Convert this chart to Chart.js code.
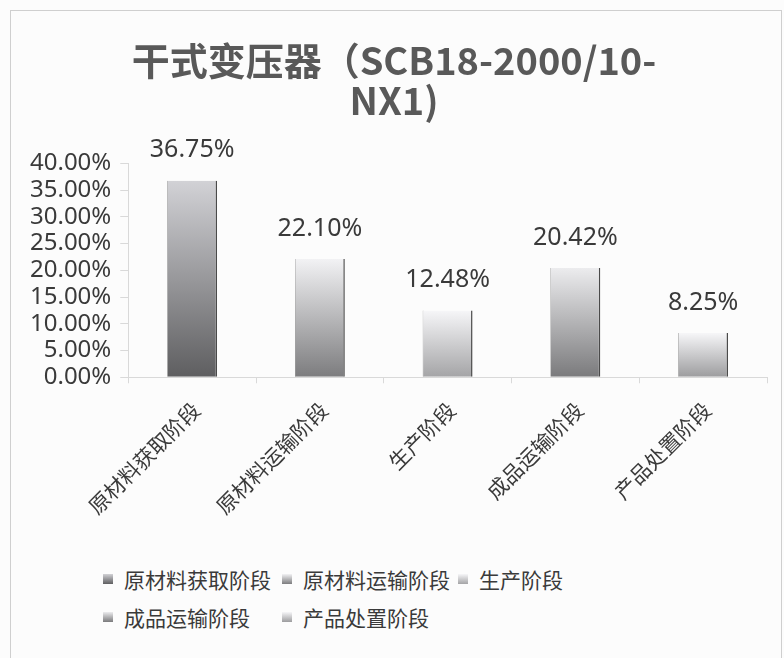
<!DOCTYPE html>
<html>
<head>
<meta charset="utf-8">
<script src="https://cdn.jsdelivr.net/npm/chart.js@4/dist/chart.umd.min.js"></script>
<style>
  body { margin: 0; background: #fcfcfc; width: 784px; height: 658px; overflow: hidden; position: relative; }
  #frame { position: absolute; left: 10px; top: 10px; width: 772px; height: 660px; border: 1px solid #cfcfcf; box-sizing: border-box; }
  #wrap { position: absolute; left: 0; top: 0; width: 784px; height: 533px; }
  #legend { position: absolute; left: 103px; top: 565px; display: grid; grid-template-columns: 179px 176px auto; row-gap: 10px;
            font-family: "Noto Sans CJK SC", sans-serif; font-size: 21px; color: #3a3a3a; }
  .item { display: flex; align-items: center; height: 28px; white-space: nowrap; }
  .sw { width: 10px; height: 10px; margin-right: 11px; }
</style>
</head>
<body>
<div id="frame"></div>
<div id="wrap"><canvas id="stageChart"></canvas></div>
<div id="legend"></div>
<script>
// 数据
const stages = ['原材料获取阶段', '原材料运输阶段', '生产阶段', '成品运输阶段', '产品处置阶段'];
const shares = [36.75, 22.10, 12.48, 20.42, 8.25];
const titleLines = ['干式变压器（SCB18-2000/10-', 'NX1)'];

// 每根柱子的渐变颜色（上 -> 下）
const topColors = ['#d2d2d6', '#f2f2f4', '#f6f6f8', '#ececee', '#f6f6f8'];
const bottomColors = ['#5e5e60', '#7c7c7e', '#a4a4a6', '#7a7a7c', '#9c9c9e'];

const latin = '"Noto Sans", "Noto Sans CJK SC", sans-serif';

function barGradient(context) {
    const chart = context.chart;
    const area = chart.chartArea;
    const yScale = chart.scales.y;
    if (!area || !yScale) return bottomColors[context.dataIndex];
    const top = yScale.getPixelForValue(shares[context.dataIndex]);
    if (!isFinite(top) || !isFinite(area.bottom)) return bottomColors[context.dataIndex];
    const g = chart.ctx.createLinearGradient(0, top, 0, area.bottom);
    g.addColorStop(0, topColors[context.dataIndex]);
    g.addColorStop(1, bottomColors[context.dataIndex]);
    return g;
}

// 柱顶数值标签
const valueLabels = {
    id: 'valueLabels',
    afterDatasetsDraw(chart) {
        const ctx = chart.ctx;
        ctx.save();
        ctx.font = '25px ' + latin;
        ctx.fillStyle = '#3a3a3a';
        ctx.textAlign = 'center';
        ctx.textBaseline = 'bottom';
        chart.getDatasetMeta(0).data.forEach((bar, i) => {
            ctx.fillText(shares[i].toFixed(2) + '%', bar.x, bar.y - 18);
        });
        ctx.restore();
    }
};

const ctx = document.getElementById('stageChart').getContext('2d');
const chartInstance = new Chart(ctx, {
    type: 'bar',
    data: {
        labels: stages,
        datasets: [{
            data: shares,
            backgroundColor: barGradient,
            borderColor: '#4a4a4a',
            borderWidth: { right: 1.5, left: 0.5, top: 0, bottom: 0 },
            borderSkipped: false,
            categoryPercentage: 1,
            barPercentage: 0.39
        }]
    },
    options: {
        responsive: true,
        maintainAspectRatio: false,
        animation: false,
        layout: { padding: { top: 40, right: 17, left: 21, bottom: 0 } },
        plugins: {
            legend: { display: false },
            tooltip: { enabled: false },
            title: {
                display: true,
                text: titleLines,
                color: '#595959',
                font: { family: '"Noto Sans CJK SC", sans-serif', size: 38, weight: 'bold', lineHeight: 1.07 },
                padding: { top: 0, bottom: 42 }
            }
        },
        scales: {
            x: {
                grid: { display: true, drawOnChartArea: false, drawTicks: true, tickLength: 6, color: '#d9d9d9', offset: true },
                border: { color: '#d9d9d9' },
                ticks: {
                    color: '#3a3a3a',
                    font: { family: '"Noto Sans CJK SC", sans-serif', size: 21 },
                    minRotation: 45, maxRotation: 45, padding: 14, labelOffset: 4
                }
            },
            y: {
                min: 0, max: 40,
                grid: { display: true, drawOnChartArea: false, drawTicks: true, tickLength: 8, color: '#d9d9d9' },
                border: { color: '#d9d9d9' },
                ticks: {
                    stepSize: 5, autoSkip: false, padding: 9,
                    color: '#3a3a3a',
                    font: { family: latin, size: 24 },
                    callback: v => v.toFixed(2) + '%'
                }
            }
        }
    },
    plugins: [valueLabels]
});

// 图例
const legend = document.getElementById('legend');
stages.forEach((name, i) => {
    const item = document.createElement('div');
    item.className = 'item';
    const sw = document.createElement('span');
    sw.className = 'sw';
    sw.style.background = 'linear-gradient(' + topColors[i] + ', ' + bottomColors[i] + ')';
    item.appendChild(sw);
    item.appendChild(document.createTextNode(name));
    legend.appendChild(item);
});
</script>
</body>
</html>
